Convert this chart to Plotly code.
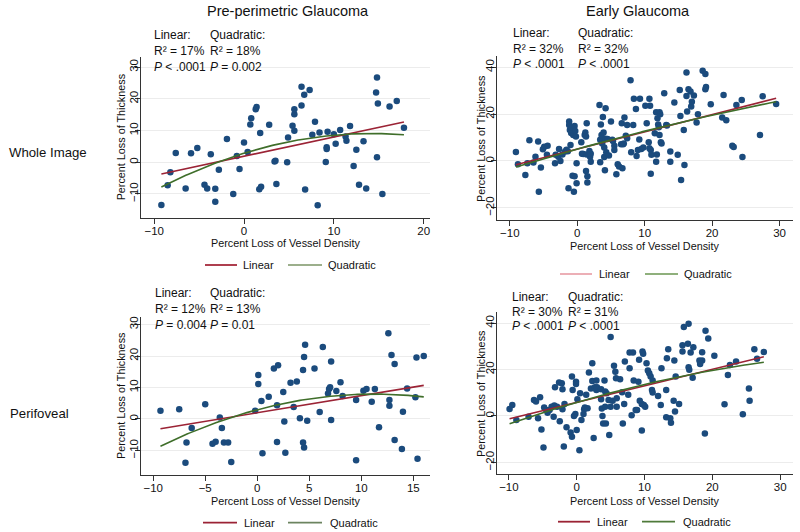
import numpy as np
import plotly.graph_objects as go

# ---------------- data ----------------
col_titles = ["Pre-perimetric Glaucoma", "Early Glaucoma"]
row_titles = ["Whole Image", "Perifoveal"]

# Panel A: Pre-perimetric, whole image
pre_whole_x = [-9.2, -8.5, -8.2, -7.6, -6.5, -5.9, -5.2, -4.4, -4.1, -3.7,
               -3.2, -3.2, -2.8, -1.9, -1.2, -0.8, -0.5, 0.0, 0.4, 0.7,
               0.8, 1.3, 1.4, 1.7, 1.9, 1.8, 2.8, 3.4, 3.5, 3.6,
               4.8, 4.9, 5.4, 5.6, 5.6, 5.6, 6.4, 6.7, 6.8, 7.3,
               7.9, 8.2, 8.4, 7.6, 9.1, 9.2, 9.2, 9.3, 10.0, 10.2,
               10.7, 11.3, 11.4, 11.8, 12.2, 12.5, 12.8, 13.3, 13.6, 14.8,
               15.4, 14.7, 14.9, 16.2, 17.0, 17.8, 6.4, 14.8]
pre_whole_y = [-13.5, -7.3, -3.2, 2.9, -8.3, 2.8, 4.5, -7.1, -8.3, 2.5,
               -8.4, -12.5, -2.4, 7.3, -10.0, 2.0, -2.1, 6.2, 3.2, 11.9,
               13.9, 16.7, 17.4, -8.5, -7.7, 9.2, 11.8, 0.2, 0.5, -6.9,
               0.0, 7.8, 11.5, 9.9, 15.1, 16.7, 17.9, 21.3, -8.6, 22.8,
               12.8, -13.6, 9.4, 8.7, 0.1, 4.7, 4.2, 9.6, 8.8, 5.8,
               10.2, 8.1, 6.8, 11.4, -1.2, 3.9, -7.1, 6.6, -8.3, 1.6,
               -10.0, 22.0, 18.5, 17.6, 19.3, 10.9, 23.8, 26.7]

# Panel B: Early glaucoma, whole image
early_whole_x = [-9.1, -8.8, -7.7, -7.1, -7.4, -6.5, -6.2, -5.8, -5.7, -5.4,
                 -5.1, -4.9, -4.4, -4.5, -3.3, -3.2, -2.8, -2.7, -2.5, -2.2,
                 -1.8, -1.6, -1.4, -1.2, -1.2, -1.1, -1.0, -0.9, -0.8, -0.6,
                 -0.4, -0.3, -0.2, -1.3, -0.7, -0.4, -0.5, -0.1, -0.1, 0.6,
                 0.7, 0.9, 1.1, 1.2, 1.3, 1.4, 1.4, 1.3, 1.5, 1.5,
                 1.8, 1.9, 2.0, 2.0, 3.3, 3.4, 3.4, 3.5, 3.6, 3.7,
                 3.8, 3.9, 4.0, 4.0, 4.1, 4.2, 4.2, 4.3, 4.5, 4.7,
                 5.0, 5.2, 5.3, 5.5, 5.5, 5.8, 6.0, 6.2, 6.5, 6.6,
                 6.7, 6.8, 6.9, 7.0, 7.2, 7.4, 7.4, 7.9, 8.0, 8.3,
                 8.4, 8.7, 8.8, 9.0, 9.2, 9.3, 9.5, 9.8, 10.1, 10.3,
                 10.7, 10.8, 10.6, 10.7, 10.9, 10.9, 11.0, 11.5, 11.7, 11.7,
                 11.8, 11.9, 12.0, 12.1, 12.2, 12.2, 12.3, 12.4, 12.5, 12.9,
                 13.2, 13.3, 13.8, 13.8, 14.4, 14.9, 15.2, 15.3, 15.4, 15.8,
                 15.9, 16.2, 16.3, 16.2, 16.5, 16.8, 16.9, 17.0, 17.3, 17.7,
                 17.9, 18.6, 19.0, 19.0, 19.1, 19.8, 21.5, 21.7, 22.1, 23.0,
                 23.2, 23.6, 24.4, 24.5, 27.1, 27.5, 29.5]
early_whole_y = [3.8, -1.4, -6.0, 8.8, -1.0, -0.7, 1.8, 8.3, -13.1, -2.8,
                 5.0, 6.1, 6.5, 2.6, -1.0, 2.6, 1.8, 5.1, 0.0, 2.8,
                 4.0, 4.8, 4.1, 16.8, 15.4, 13.2, 6.8, 11.9, 14.2, 11.1,
                 14.9, 12.8, 10.4, -11.7, -6.3, -6.5, -13.1, -9.5, -1.0, 8.0,
                 3.1, 3.0, 11.1, 12.2, 10.4, 16.1, 2.8, -4.3, -6.5, -9.2,
                 4.3, 1.8, -0.3, 3.1, 23.9, 9.0, -0.6, 15.6, 11.1, 7.5,
                 18.8, 12.1, 5.7, 1.7, -4.0, 22.5, 9.5, 3.7, 9.4, 2.3,
                 16.8, 9.0, 8.5, 6.5, 4.7, -5.7, -1.4, -2.4, 7.1, 16.1,
                 -3.1, 7.1, 7.5, 18.5, 10.8, 15.4, 9.7, 34.4, 3.7, 15.4,
                 26.5, 22.2, 2.1, 4.7, 9.2, 26.5, 5.1, 5.7, 23.6, 16.1,
                 26.5, 23.6, 8.0, 5.4, 4.7, -5.5, 2.6, 11.8, 20.8, -0.3,
                 2.8, 18.2, 15.6, 14.4, 11.1, 20.8, 19.9, 8.0, 7.5, 28.9,
                 15.4, 15.1, -0.3, 4.0, 25.0, 2.6, 30.3, 19.2, -8.1, 13.2,
                 -1.7, 37.8, 21.1, 27.7, 30.6, 29.6, 23.2, 25.3, 27.9, 16.4,
                 19.9, 38.5, 37.1, 30.6, 31.6, 24.2, 18.5, 28.2, 17.4, 6.5,
                 6.0, 23.9, 26.0, 1.7, 11.1, 27.6, 24.3]

# Panel C: Pre-perimetric, perifoveal
pre_peri_x = [-9.3, -7.5, -6.3, -5.0, -3.6, -3.4, -0.2, 0.1, 0.1, 0.4,
              1.1, 1.6, 1.9, 2.0, 2.5, 2.6, 3.2, 3.5, 3.8, 4.1,
              4.4, 4.5, 4.6, 4.8, 5.5, 6.0, 6.3, 6.8, 6.9, 7.0,
              7.1, 7.1, 7.6, 8.0, 8.2, 9.5, 10.2, 10.5, 11.0, 11.3,
              11.7, 12.6, 12.7, 12.7, 12.9, 13.2, 14.0, 14.4, 15.2, 15.3,
              16.0, -6.8, -6.9, -4.3, -4.0, -3.2, -2.8, -2.5, 0.5, 1.9,
              2.7, 4.4, 4.5, 9.5, 13.2, 13.9, 15.4]
pre_peri_y = [2.6, 3.1, -2.9, 4.7, 0.5, -2.9, 2.6, 14.0, 11.1, 5.7,
              7.1, 16.0, 4.4, 17.1, 8.6, -0.8, 11.5, 3.8, 11.9, 0.2,
              15.6, 19.7, 23.6, -0.6, 16.0, 2.2, 22.9, 8.1, 9.5, 10.1,
              -0.3, 18.3, 8.9, 11.7, 7.3, 6.0, 9.0, 9.5, 5.5, 9.5,
              -2.6, 27.2, 4.2, 6.0, 20.3, 17.5, 2.3, 9.7, 6.9, 19.5,
              20.0, -7.5, -13.9, -7.9, -7.2, -7.5, -7.5, -13.7, -10.9, -7.3,
              -10.7, -7.5, -9.1, -13.1, -6.7, -9.5, -12.6]

# Panel D: Early glaucoma, perifoveal
early_peri_x = [-9.9, -9.5, -8.9, -7.1, -6.3, -6.0, -5.7, -5.4, -5.2, -4.8,
                -4.5, -4.3, -4.0, -3.7, -3.4, -3.3, -3.2, -2.9, -2.6, -2.5,
                -2.2, -2.1, -2.1, -1.8, -1.5, -0.9, -0.7, -0.7, -0.6, -0.4,
                -0.2, -0.1, -0.1, 0.0, 0.1, 0.5, 0.7, 1.0, 1.1, 1.2,
                1.4, 1.6, 1.8, 2.1, 2.3, 2.3, 2.5, 2.6, 2.7, 2.9,
                2.9, 3.0, 3.6, 3.6, 3.7, 3.8, 3.9, 4.1, 4.2, 4.2,
                4.3, 4.4, 4.7, 4.8, 5.0, 5.3, 5.5, 5.7, 5.8, 5.9,
                5.9, 6.4, 6.7, 6.8, 7.0, 7.1, 7.6, 7.8, 7.8, 8.1,
                8.3, 8.4, 8.7, 8.9, 9.1, 9.2, 9.3, 9.6, 9.6, 9.7,
                9.8, 9.9, 10.1, 10.3, 10.5, 10.7, 10.9, 11.1, 11.2, 11.2,
                12.0, 12.4, 12.5, 13.2, 13.2, 13.3, 13.5, 13.8, 13.9, 14.3,
                14.4, 14.5, 14.6, 15.1, 15.6, 15.6, 15.8, 16.5, 16.4, 16.5,
                16.6, 16.8, 17.1, 17.2, 18.5, 18.5, 18.9, 19.0, 19.4, 18.1,
                18.2, 20.3, 21.8, 22.3, 22.6, 23.5, 24.5, 25.4, 25.5, 26.2,
                26.6, 27.6, -4.9, -1.9, 0.4, 5.0]
early_peri_y = [3.0, 4.7, -1.7, -0.3, 6.9, 6.2, -1.0, 8.1, -5.8, 3.6,
                2.6, 1.4, 2.6, 4.0, -0.3, 4.5, 12.4, 4.0, 14.4, -2.3,
                14.1, 11.5, 2.9, 5.2, -4.9, -7.1, 17.0, -8.9, 11.2, 0.0,
                0.9, 14.8, 13.8, -6.0, 7.2, 9.8, -1.7, 0.9, 2.9, 3.7,
                9.1, 3.3, 18.7, 11.8, 15.1, 22.7, -9.5, 12.1, 12.4, 11.2,
                15.3, 12.4, 11.5, 7.2, 3.2, 0.0, -3.2, 15.3, 10.5, 4.0,
                -3.2, 9.8, 6.9, -8.2, 4.0, 6.6, 21.6, 19.1, 16.3, 7.6,
                4.0, 15.8, 10.2, -3.2, 5.2, 23.5, 9.1, 20.6, 27.3, 0.3,
                27.3, 15.3, 2.6, 2.6, 14.8, 24.2, 6.6, 5.2, -6.3, 27.8,
                26.8, 4.7, 4.0, 22.7, 19.6, 18.4, 17.0, 11.2, 15.3, 10.1,
                8.6, 4.7, 20.6, 11.2, -0.6, 24.9, 28.8, -1.0, -2.9, 6.6,
                23.9, 1.9, 17.0, 5.2, 30.5, 27.8, 38.3, 39.7, 31.1, 21.0,
                19.9, 27.3, 16.5, 29.6, 27.5, 23.9, -7.5, 36.7, 33.4, 23.9,
                22.4, 26.0, 5.0, 17.7, 22.0, 23.5, 0.7, 11.8, 6.6, 28.8,
                24.7, 27.6, -13.6, -13.2, -14.8, 34.0]

# Header statistics text
stats_linear = [["R² = 17%", "<i>P</i> < .0001"], ["R² = 32%", "<i>P</i> < .0001"],
                ["R² = 12%", "<i>P</i> = 0.004"], ["R² = 30%", "<i>P</i> < .0001"]]
stats_quad = [["R² = 18%", "<i>P</i> = 0.002"], ["R² = 32%", "<i>P</i> < .0001"],
              ["R² = 13%", "<i>P</i> = 0.01"], ["R² = 31%", "<i>P</i> < .0001"]]

xtick_vals = [[-10, 0, 10, 20], [-10, 0, 10, 20, 30],
              [-10, -5, 0, 5, 10, 15], [-10, 0, 10, 20, 30]]
ytick_vals = [[-10, 0, 10, 20, 30], [-20, 0, 20, 40],
              [-10, 0, 10, 20, 30], [-20, 0, 20, 40]]

# ---------------- layout geometry ----------------
W, H = 800, 532
def fx(p): return p / W
def fy(p): return 1 - p / H

panels = [
    dict(x=pre_whole_x, y=pre_whole_y, px=(140.7, 430), py=(57, 217.7),
         xr=[-11.5, 20.7], yr=[-17.5, 33.2]),
    dict(x=early_whole_x, y=early_whole_y, px=(496.7, 793), py=(56, 220),
         xr=[-11.95, 32], yr=[-25.2, 44.8]),
    dict(x=pre_peri_x, y=pre_peri_y, px=(140.7, 430), py=(317, 475),
         xr=[-11.2, 16.6], yr=[-17.8, 32.4]),
    dict(x=early_peri_x, y=early_peri_y, px=(496.7, 793), py=(312, 474),
         xr=[-11.8, 31.9], yr=[-25, 44.8]),
]

FONT = "Liberation Sans, Arial, sans-serif"
MARKER = "#1b4b7d"
RED = "#9b2335"
GREEN = "#3f6e2a"

fig = go.Figure()
layout = dict(width=W, height=H, margin=dict(l=0, r=0, t=0, b=0),
              paper_bgcolor="white", plot_bgcolor="white", showlegend=False,
              font=dict(family=FONT, size=11, color="#111"))
annotations = []
shapes = []

def note(px_, py_, text, size=11, xanchor="center", angle=0):
    annotations.append(dict(x=fx(px_), y=fy(py_), text=text, showarrow=False,
                            xref="paper", yref="paper", xanchor=xanchor, yanchor="middle",
                            textangle=angle, font=dict(size=size)))

for i, p in enumerate(panels):
    n = "" if i == 0 else str(i + 1)
    xa, ya = "x" + n, "y" + n
    x = np.array(p["x"]); y = np.array(p["y"])
    fig.add_trace(go.Scatter(x=x, y=y, mode="markers", xaxis=xa, yaxis=ya,
                             marker=dict(size=6.5, color=MARKER)))
    xs = np.linspace(x.min(), x.max(), 120)
    c1 = np.polyfit(x, y, 1)
    c2 = np.polyfit(x, y, 2)
    fig.add_trace(go.Scatter(x=xs, y=np.polyval(c1, xs), mode="lines", xaxis=xa, yaxis=ya,
                             line=dict(color=RED, width=1.6)))
    fig.add_trace(go.Scatter(x=xs, y=np.polyval(c2, xs), mode="lines", xaxis=xa, yaxis=ya,
                             line=dict(color=GREEN, width=1.6)))
    layout["xaxis" + n] = dict(domain=[fx(p["px"][0]), fx(p["px"][1])], range=p["xr"],
                               anchor=ya, tickvals=xtick_vals[i], showgrid=False,
                               zeroline=False, showline=True, linecolor="#333", linewidth=1,
                               ticks="outside", ticklen=5, tickcolor="#333",
                               ticklabelstandoff=-3,
                               tickfont=dict(size=11.5, color="#111"))
    layout["yaxis" + n] = dict(domain=[fy(p["py"][1]), fy(p["py"][0])], range=p["yr"],
                               anchor=xa, tickvals=ytick_vals[i], showgrid=True,
                               gridcolor="#ececec", gridwidth=1,
                               zeroline=False, showline=True, linecolor="#333", linewidth=1,
                               ticks="outside", ticklen=5, tickcolor="#333", tickangle=-90,
                               ticklabelstandoff=-8,
                               tickfont=dict(size=11.5, color="#111"))

# Column titles
note(288, 11, col_titles[0], 14.5)
note(638, 11, col_titles[1], 14.5)
# Row titles
note(7, 152, row_titles[0], 13.2, "left")
note(8, 413, row_titles[1], 13.2, "left")

# Header stats per panel: (linear x, quadratic x, line y positions)
headers = [(151.7, 208.3, (35, 51.5, 67)), (511, 576, (33.3, 49, 63.5)),
           (153, 208.3, (293, 309, 325)), (510, 566, (296.7, 312, 326))]
for i, (lx, qx, ys) in enumerate(headers):
    for tx, lines, head in ((lx, stats_linear[i], "Linear:"), (qx, stats_quad[i], "Quadratic:")):
        for txt, yy in zip([head] + lines, ys):
            note(tx, yy, txt, 12, "left")

# Axis titles
xtitle_y = [243.5, 245.5, 501, 500.7]
ytitle_x = [121, 481, 121, 481]
for i, p in enumerate(panels):
    cx = (p["px"][0] + p["px"][1]) / 2
    note(cx, xtitle_y[i], "Percent Loss of Vessel Density", 10.8)
    cy = (p["py"][0] + p["py"][1]) / 2
    note(ytitle_x[i], cy, "Percent Loss of Thickness", 10.8, angle=-90)

# Manual legends
legends = [
    dict(y=265, red=(205, 237), lt=241, green=(288, 322), qt=326, rc="#a52a3c", gc="#9caf8c"),
    dict(y=274, red=(560, 592), lt=597, green=(645, 678), qt=682, rc="#eaa6ae", gc="#8fb07c"),
    dict(y=522.7, red=(203, 237), lt=242, green=(288, 322), qt=328, rc="#9b2335", gc="#6c8460"),
    dict(y=521.7, red=(558, 590), lt=595, green=(642, 675), qt=681, rc="#9b2335", gc="#4f7a3a"),
]
for lg in legends:
    shapes.append(dict(type="line", xref="paper", yref="paper", x0=fx(lg["red"][0]), x1=fx(lg["red"][1]),
                       y0=fy(lg["y"]), y1=fy(lg["y"]), line=dict(color=lg["rc"], width=1.8)))
    shapes.append(dict(type="line", xref="paper", yref="paper", x0=fx(lg["green"][0]), x1=fx(lg["green"][1]),
                       y0=fy(lg["y"]), y1=fy(lg["y"]), line=dict(color=lg["gc"], width=1.8)))
    note(lg["lt"], lg["y"], "Linear", 11, "left")
    note(lg["qt"], lg["y"], "Quadratic", 11, "left")

layout["annotations"] = annotations
layout["shapes"] = shapes
fig.update_layout(**layout)
fig.write_html("out.html", config={"displayModeBar": False},
               post_script="document.body.style.margin='0';")
